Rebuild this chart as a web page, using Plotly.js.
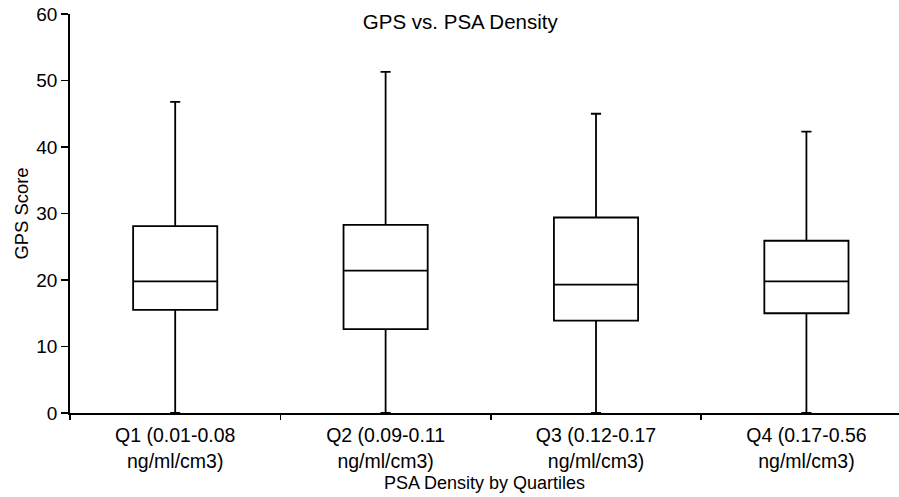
<!DOCTYPE html>
<html>
<head>
<meta charset="utf-8">
<script src="https://cdn.plot.ly/plotly-3.0.1.min.js"></script>
<style>html,body{margin:0;padding:0;background:#fff;}#chart{width:899px;height:497px;}</style>
</head>
<body>
<div id="chart"></div>
<script>
const categories = ["Q1 (0.01-0.08<br>ng/ml/cm3)", "Q2 (0.09-0.11<br>ng/ml/cm3)", "Q3 (0.12-0.17<br>ng/ml/cm3)", "Q4 (0.17-0.56<br>ng/ml/cm3)"];
const lowerWhisker = [0, 0, 0, 0];
const q1Values = [15.5, 12.6, 13.9, 15.0];
const medians = [19.8, 21.4, 19.3, 19.8];
const q3Values = [28.1, 28.3, 29.4, 25.9];
const upperWhisker = [46.8, 51.3, 45.0, 42.3];

const trace = {
  type: 'box',
  x: categories,
  lowerfence: lowerWhisker,
  q1: q1Values,
  median: medians,
  q3: q3Values,
  upperfence: upperWhisker,
  fillcolor: '#ffffff',
  line: {color: '#000000', width: 1.8},
  width: 0.4,
  whiskerwidth: 0.12,
  boxpoints: false,
  hoverinfo: 'skip',
  showlegend: false
};

const layout = {
  width: 899, height: 497,
  margin: {l: 70, r: 0, t: 14, b: 84},
  paper_bgcolor: '#ffffff', plot_bgcolor: '#ffffff',
  font: {family: 'Liberation Sans, Arial, sans-serif', color: '#000000', size: 19},
  title: {text: 'GPS vs. PSA Density', font: {size: 20.5, color: '#000'}, xref: 'container', x: 0.512, xanchor: 'center', yref: 'container', y: 0.956, yanchor: 'middle'},
  xaxis: {
    type: 'category', range: [-0.5, 3.44], showgrid: false, zeroline: false,
    showline: true, linecolor: '#000', linewidth: 1.8,
    ticks: 'outside', tickson: 'boundaries', ticklen: 5, tickwidth: 1.8, tickcolor: '#000',
    tickfont: {size: 19.5}, ticklabelstandoff: 4
  },
  yaxis: {
    range: [0, 60], dtick: 10, showgrid: false, zeroline: false,
    showline: true, linecolor: '#000', linewidth: 1.8,
    ticks: 'outside', ticklen: 7, tickwidth: 1.8, tickcolor: '#000',
    tickfont: {size: 19},
    title: {text: 'GPS Score', font: {size: 18.4}, standoff: 3}
  },
  annotations: [{
    text: 'PSA Density by Quartiles', showarrow: false,
    xref: 'paper', x: 0.5, xanchor: 'center',
    yref: 'paper', y: -(483 - 413) / 399, yanchor: 'middle',
    font: {size: 18}
  }]
};

Plotly.newPlot('chart', [trace], layout, {displayModeBar: false, staticPlot: true});
</script>
</body>
</html>
